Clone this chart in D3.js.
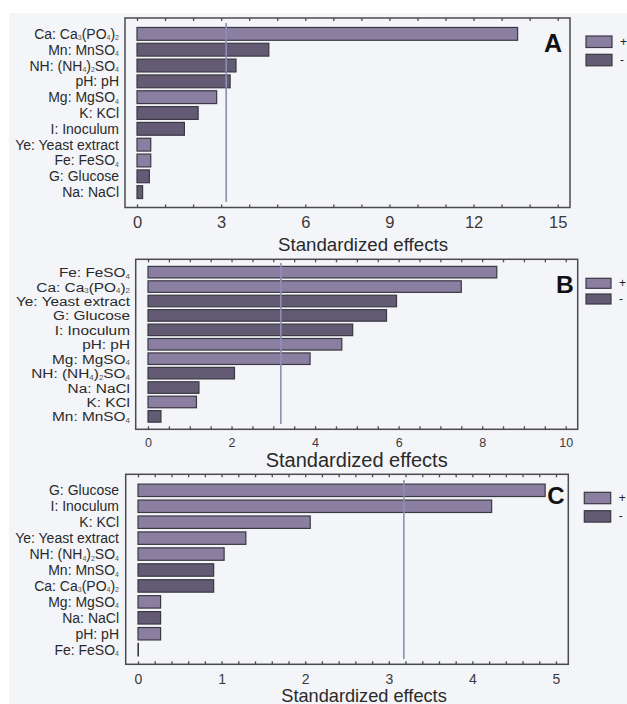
<!DOCTYPE html>
<html>
<head>
<meta charset="utf-8">
<script src="https://cdn.jsdelivr.net/npm/d3@7"></script>
<style>
  body { margin: 0; background: #fff; }
  svg { display: block; font-family: "Liberation Sans", Arial, sans-serif; }
</style>
</head>
<body>
<svg id="chart" width="627" height="704"></svg>
<script>
// "_" marks the next char as a subscript
var labelsA = ["Ca: Ca_3(PO_4)_2", "Mn: MnSO_4", "NH: (NH_4)_2SO_4", "pH: pH", "Mg: MgSO_4", "K: KCl",
               "I: Inoculum", "Ye: Yeast extract", "Fe: FeSO_4", "G: Glucose", "Na: NaCl"];
var valuesA = [13.57, 4.70, 3.53, 3.32, 2.84, 2.18, 1.69, 0.49, 0.49, 0.44, 0.20];
var signsA  = ["+", "-", "-", "-", "+", "-", "-", "+", "+", "-", "-"];

var labelsB = ["Fe: FeSO_4", "Ca: Ca_3(PO_4)_2", "Ye: Yeast extract", "G: Glucose", "I: Inoculum", "pH: pH",
               "Mg: MgSO_4", "NH: (NH_4)_2SO_4", "Na: NaCl", "K: KCl", "Mn: MnSO_4"];
var valuesB = [8.35, 7.50, 5.95, 5.71, 4.90, 4.64, 3.88, 2.07, 1.22, 1.16, 0.31];
var signsB  = ["+", "+", "-", "-", "-", "+", "+", "-", "-", "+", "-"];

var labelsC = ["G: Glucose", "I: Inoculum", "K: KCl", "Ye: Yeast extract", "NH: (NH_4)_2SO_4", "Mn: MnSO_4",
               "Ca: Ca_3(PO_4)_2", "Mg: MgSO_4", "Na: NaCl", "pH: pH", "Fe: FeSO_4"];
var valuesC = [4.87, 4.23, 2.06, 1.29, 1.03, 0.905, 0.905, 0.27, 0.27, 0.27, 0.0];
var signsC  = ["+", "+", "+", "+", "+", "-", "-", "+", "-", "+", "+"];

var criticalA = 3.18, criticalB = 3.18, criticalC = 3.18;
var legendKeys = ["+", "-"];

var colors = { "+": "#8a7fa1", "-": "#635a73" };

var svg = d3.select("#chart");
svg.append("rect").attr("x", 9).attr("y", 13).attr("width", 618).attr("height", 691).attr("fill", "#f4f5f9");

function draw_panel(p) {
    var x = d3.scaleLinear().domain([0, p.xmax]).range([p.x0, p.x1]);
    var y = d3.scaleBand().domain(p.labels).range(p.band).padding(p.pad);
    var g = svg.append("g");

    // frame
    g.append("rect")
        .attr("x", p.frame[0]).attr("y", p.frame[1])
        .attr("width", p.frame[2] - p.frame[0]).attr("height", p.frame[3] - p.frame[1])
        .attr("fill", "none").attr("stroke", "#4a4a4f").attr("stroke-width", 1.5);

    // inward ticks, top and bottom
    var minor = d3.range(0, p.xmax + 1e-9, p.minorStep);
    g.append("g").attr("transform", "translate(0," + p.frame[3] + ")")
        .call(d3.axisBottom(x).tickValues(minor).tickSize(-3).tickFormat(""))
        .call(function (s) { s.select(".domain").remove(); s.selectAll("line").attr("stroke", "#4a4a4f").attr("stroke-width", 1.3); });
    g.append("g").attr("transform", "translate(0," + p.frame[1] + ")")
        .call(d3.axisTop(x).tickValues(minor).tickSize(-3).tickFormat(""))
        .call(function (s) { s.select(".domain").remove(); s.selectAll("line").attr("stroke", "#4a4a4f").attr("stroke-width", 1.3); });

    // tick labels
    g.append("g").attr("transform", "translate(0," + p.frame[3] + ")")
        .call(d3.axisBottom(x).tickValues(p.major).tickSize(0).tickPadding(p.tickPad).tickFormat(d3.format("d")))
        .call(function (s) {
            s.select(".domain").remove();
            s.selectAll("text").style("font-size", p.tickFont + "px").attr("fill", "#3a3a3a")
                .style("font-family", "'Liberation Sans', Arial, sans-serif");
        });

    // axis title
    g.append("text").text("Standardized effects")
        .attr("x", p.title[0]).attr("y", p.title[1])
        .attr("text-anchor", "middle").style("font-size", p.titleFont + "px").style("fill", "#2a2a2a");

    // bars (a zero effect still shows as a thin outline, as in the source)
    g.selectAll(".bar").data(p.values).enter().append("rect")
        .attr("x", x(0))
        .attr("y", function (d, i) { return y(p.labels[i]); })
        .attr("width", function (d) { return Math.max(x(d) - x(0), 0.4); })
        .attr("height", y.bandwidth())
        .attr("fill", function (d, i) { return colors[p.signs[i]]; })
        .attr("stroke", "#3a3842").attr("stroke-width", 1.2);

    // critical line
    g.append("line")
        .attr("x1", x(p.critical)).attr("x2", x(p.critical))
        .attr("y1", p.lineY[0]).attr("y2", p.lineY[1])
        .attr("stroke", "#8d8fb3").attr("stroke-width", 1.6);

    // labels
    var lab = g.append("g")
        .attr("transform", "translate(" + p.labelX + ",0) scale(" + p.labelScale + ",1)");
    p.labels.forEach(function (l) {
        var t = lab.append("text")
            .attr("x", 0)
            .attr("y", y(l) + y.bandwidth() / 2 + 5)
            .attr("text-anchor", "end")
            .style("font-size", p.labelFont + "px").style("fill", "#2a2a2a");
        var parts = l.split("_");
        t.append("tspan").text(parts[0]);
        parts.slice(1).forEach(function (part) {
            t.append("tspan").text(part[0]).style("font-size", "7px").attr("dy", 1.5).style("fill", "#555");
            if (part.length > 1) t.append("tspan").text(part.slice(1)).attr("dy", -1.5);
        });
    });

    // panel letter
    g.append("text").text(p.letter)
        .attr("x", p.letterPos[0]).attr("y", p.letterPos[1])
        .attr("text-anchor", "middle")
        .style("font-size", p.letterFont + "px").style("font-weight", "bold").style("fill", "#111");

    // legend
    legendKeys.forEach(function (k, i) {
        g.append("rect")
            .attr("x", p.legend[0]).attr("y", p.legend[1] + i * p.legend[4])
            .attr("width", p.legend[2]).attr("height", p.legend[3])
            .attr("fill", colors[k]).attr("stroke", "#3a3842").attr("stroke-width", 1.2);
        g.append("text").text(k)
            .attr("x", p.legend[0] + p.legend[2] + 8).attr("y", p.legend[1] + i * p.legend[4] + p.legend[3] / 2 + 4)
            .style("font-size", "12px").style("fill", "#222");
    });
}

draw_panel({
    labels: labelsA, values: valuesA, signs: signsA, critical: criticalA,
    xmax: 15, x0: 137, x1: 557.7, band: [24.45, 201.55], pad: 0.19,
    frame: [125, 18, 570, 207.5], minorStep: 1, major: [0, 3, 6, 9, 12, 15],
    tickPad: 8.8, tickFont: 16.5, title: [363, 251], titleFont: 18.7,
    lineY: [23, 202], labelX: 119, labelScale: 1, labelFont: 14,
    letter: "A", letterPos: [553, 52], letterFont: 25,
    legend: [586, 36, 26, 11.5, 18.3]
});

draw_panel({
    labels: labelsB, values: valuesB, signs: signsB, critical: criticalB,
    xmax: 10, x0: 148, x1: 565.7, band: [263.5, 425.05], pad: 0.2,
    frame: [135.7, 259.3, 577.7, 429.3], minorStep: 0.5, major: [0, 2, 4, 6, 8, 10],
    tickPad: 8.5, tickFont: 12.5, title: [356.7, 466.7], titleFont: 20,
    lineY: [263, 424], labelX: 130, labelScale: 1.14, labelFont: 13.5,
    letter: "B", letterPos: [565, 292.7], letterFont: 24.6,
    legend: [586, 278.3, 25, 10, 15.7]
});

draw_panel({
    labels: labelsC, values: valuesC, signs: signsC, critical: criticalC,
    xmax: 5, x0: 138, x1: 556, band: [480.6, 659.4], pad: 0.22,
    frame: [125.7, 474.3, 568.3, 664.3], minorStep: 0.2, major: [0, 1, 2, 3, 4, 5],
    tickPad: 9.3, tickFont: 14, title: [364, 701.5], titleFont: 18.2,
    lineY: [480, 659], labelX: 119, labelScale: 1, labelFont: 14,
    letter: "C", letterPos: [556, 504], letterFont: 24,
    legend: [584.3, 492.3, 26.4, 11.4, 18.4]
});
</script>
</body>
</html>
